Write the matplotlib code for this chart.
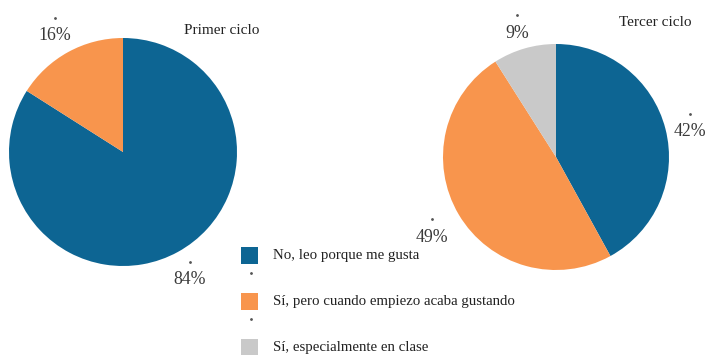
import matplotlib.pyplot as plt
from matplotlib.patches import Rectangle

plt.rcParams['font.family'] = ['Liberation Serif', 'DejaVu Serif']

categories = ["No, leo porque me gusta",
              "Sí, pero cuando empiezo acaba gustando",
              "Sí, especialmente en clase"]
colors = ["#0D6593", "#F8954D", "#C9C9C9"]

primer_values = [84, 16]
tercer_values = [42, 49, 9]

W, H = 710, 355
fig = plt.figure(figsize=(W / 100, H / 100), dpi=100)
ax = fig.add_axes([0, 0, 1, 1])

# pies, laid out in pixel units (y measured from the bottom)
ax.pie(primer_values, colors=colors[:2], startangle=90, counterclock=False,
       center=(123, H - 152), radius=114, frame=True)
ax.pie(tercer_values, colors=colors, startangle=90, counterclock=False,
       center=(556, H - 157), radius=113, frame=True)
ax.set_xlim(0, W)
ax.set_ylim(0, H)
ax.set_aspect('equal')
ax.axis('off')

# percentage labels with the small dot above each one
pct_pos = {
    (0, 0): (190, 280), (0, 1): (55, 36),
    (1, 0): (690, 132), (1, 1): (432, 237), (1, 2): (517, 33),
}
for (i, j), (px, py) in pct_pos.items():
    v = [primer_values, tercer_values][i][j]
    ax.text(px, H - py, f"{v}%", ha='center', va='center', fontsize=12.8, color='#3a3a3a')
    ax.plot(px, H - py + 18, marker='o', ms=1.0, color='#555555')

ax.text(222, H - 30, "Primer ciclo", ha='center', va='center', fontsize=11, color='#222222')
ax.text(655, H - 22, "Tercer ciclo", ha='center', va='center', fontsize=11, color='#222222')

# legend
for k, (label, c) in enumerate(zip(categories, colors)):
    y = 255 + 46 * k
    ax.add_patch(Rectangle((241, H - y - 8.5), 17, 17, color=c, lw=0))
    ax.text(273, H - y, label, ha='left', va='center', fontsize=10.7, color='#222222')
    if k < 2:
        ax.plot(251, H - y - 18, marker='o', ms=1.0, color='#555555')

fig.savefig("out.png", dpi=100)
